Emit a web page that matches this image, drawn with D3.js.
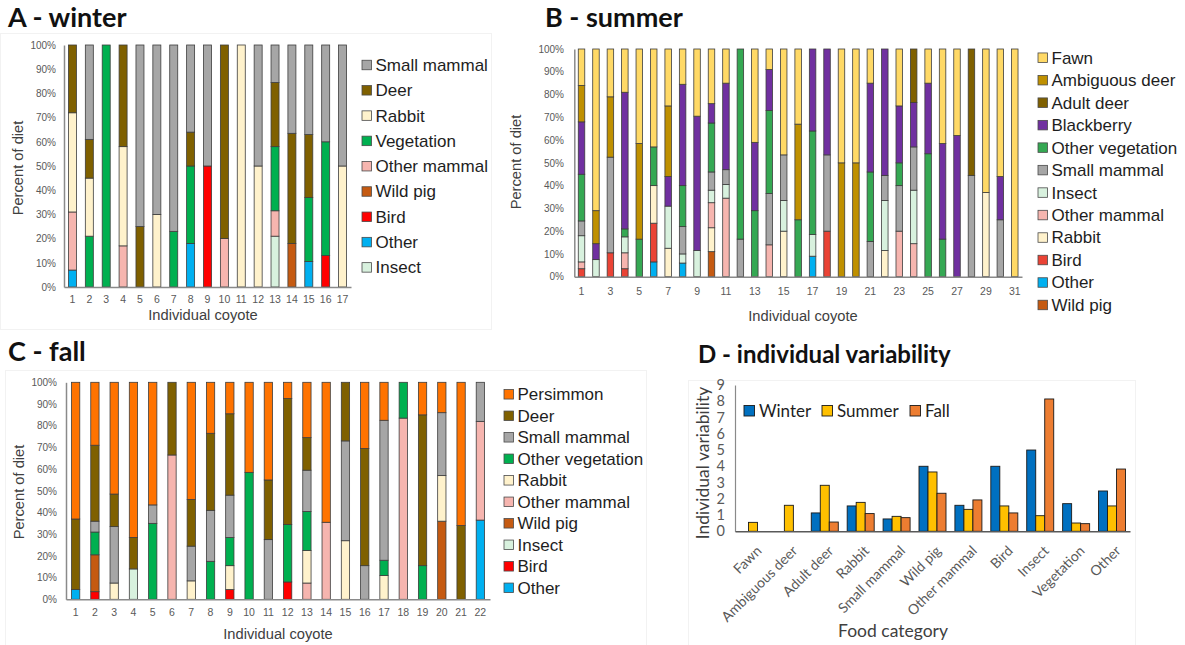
<!DOCTYPE html>
<html>
<head>
<meta charset="utf-8">
<script src="https://cdn.jsdelivr.net/npm/d3@7"></script>
<style>
  body { margin: 0; background: #fff; }
  svg { display: block; }
</style>
</head>
<body>
<svg id="fig" width="1185" height="645"></svg>
<script>
// ---------- A - winter: percent of diet per coyote (stack order bottom -> top) ----------
const winterFoods = ["Insect", "Other", "Bird", "Wild pig", "Other mammal", "Vegetation", "Rabbit", "Deer", "Small mammal"];
const wInsect      = [0, 0, 0, 0, 0, 0, 0, 0, 0, 0, 0, 0, 21, 0, 0, 0, 0];
const wOther       = [7, 0, 0, 0, 0, 0, 0, 18, 0, 0, 0, 0, 0, 0, 10.5, 0, 0];
const wBird        = [0, 0, 0, 0, 0, 0, 0, 0, 50, 0, 0, 0, 0, 0, 0, 13, 0];
const wWildPig     = [0, 0, 0, 0, 0, 0, 0, 0, 0, 0, 0, 0, 0, 18, 0, 0, 0];
const wOtherMammal = [24, 0, 0, 17, 0, 0, 0, 0, 0, 20, 0, 0, 10.5, 0, 0, 0, 0];
const wVegetation  = [0, 21, 100, 0, 0, 0, 23, 32, 0, 0, 0, 0, 26.5, 0, 26.5, 47, 0];
const wRabbit      = [41, 24, 0, 41, 0, 30, 0, 0, 0, 0, 100, 50, 0, 0, 0, 0, 50];
const wDeer        = [28, 16, 0, 42, 25, 0, 0, 14, 0, 80, 0, 0, 26.5, 45.5, 26, 0, 0];
const wSmallMammal = [0, 39, 0, 0, 75, 70, 77, 36, 50, 0, 0, 50, 15.5, 36.5, 37, 40, 50];

// ---------- B - summer ----------
const summerFoods = ["Wild pig", "Other", "Bird", "Rabbit", "Other mammal", "Insect", "Small mammal",
                     "Other vegetation", "Blackberry", "Adult deer", "Ambiguous deer", "Fawn"];
const sWildPig     = [0,0,0,0,0,0,0,0,0,11, 0,0,0,0,0,0,0,0,0,0, 0,0,0,0,0,0,0,0,0,0, 0];
const sOther       = [0,0,0,0,0,6.5,0,6,0,0, 0,0,0,0,0,0,9,0,0,0, 0,0,0,0,0,0,0,0,0,0, 0];
const sBird        = [3.5,0,10.5,3.5,0,17,0,0,0,0, 0,0,0,0,0,0,0,20,0,0, 0,0,0,0,0,0,0,0,0,0, 0];
const sRabbit      = [0,0,0,0,0,16.5,12.5,0,0,10.5, 0,0,0,0,20,0,0,0,0,0, 0,11.5,0,0,0,0,0,0,37,0, 0];
const sOtherMammal = [3,0,0,7,0,0,0,0,0,11, 34.5,0,0,14,0,0,0,0,0,0, 0,0,20,14.5,0,0,0,0,0,0, 0];
const sInsect      = [11.5,7.5,0,7,0,0,18.5,4,11.5,5.5, 6,0,0,0,13.5,0,9.5,0,0,0, 0,22,0,23.5,0,0,0,0,0,0, 0];
const sSmallMammal = [6.5,0,42,0,0,0,0,12,0,8, 6.5,16.5,0,22.5,20,0,0,33.5,0,0, 15.5,11,20,19,0,0,0,44.5,0,25, 0];
const sOtherVeg    = [20.5,0,0,3.5,16.5,17,0,18,0,21.5, 0,83.5,29,36.5,0,25,45.5,0,0,0, 30.5,0,10,0,54,16.5,0,0,0,0, 0];
const sBlackberry  = [23,7,0,60,0,0,13,44.5,59,8.5, 38,0,30,18,0,0,36,46.5,0,0, 39,55.5,25,19.5,31,42,62,0,0,19, 0];
const sAdultDeer   = [0,0,0,0,0,0,0,0,0,0, 0,0,0,0,0,0,0,0,0,0, 0,0,0,23.5,0,0,0,55.5,0,0, 0];
const sAmbDeer     = [16,14.5,26.5,0,42,0,31,0,0,0, 0,0,0,0,0,42,0,0,50,50, 0,0,0,0,0,0,0,0,0,0, 0];
const sFawn        = [16,71,21,19,41.5,43,25,15.5,29.5,24, 15,0,41,9,46.5,33,0,0,50,50, 15,0,25,0,15,41.5,38,0,63,56, 100];

// ---------- C - fall ----------
const fallFoods = ["Other", "Bird", "Insect", "Wild pig", "Other mammal", "Rabbit", "Other vegetation",
                   "Small mammal", "Deer", "Persimmon"];
const fOther       = [4.5,0,0,0,0,0,0,0,0,0, 0,0,0,0,0,0,0,0,0,0, 0,36.5];
const fBird        = [0,3.5,0,0,0,0,0,0,4.5,0, 0,8,0,0,0,0,0,0,0,0, 0,0];
const fInsect      = [0,0,0,14,0,0,0,0,0,0, 0,0,0,0,0,0,0,0,0,0, 0,0];
const fWildPig     = [0,17,0,0,0,0,0,0,0,0, 0,0,0,0,0,0,0,0,0,36, 0,0];
const fOtherMammal = [0,0,0,0,0,66.5,0,0,0,0, 0,0,7.5,35.5,0,0,0,83.5,0,0, 0,45.5];
const fRabbit      = [0,0,7.5,0,0,0,8.5,0,11,0, 0,0,15,0,27,0,11,0,0,21, 0,0];
const fOtherVeg    = [0,10.5,0,0,35,0,0,17.5,13,58.5, 0,26.5,18,0,0,0,7,16.5,15.5,0, 0,0];
const fSmallMammal = [0,5,26,0,8.5,0,16,23.5,19.5,0, 27.5,0,19,0,46,15.5,64.5,0,0,29, 0,18];
const fDeer        = [32.5,35,15,14.5,0,33.5,21.5,35.5,37.5,0, 27.5,58,15,0,27,54,0,0,69.5,0, 34,0];
const fPersimmon   = [63,29,51.5,71.5,56.5,0,54,23.5,14.5,41.5, 45,7.5,25.5,64.5,0,30.5,17.5,0,15,14, 66,0];

// ---------- D - individual variability ----------
const foodCategories = ["Fawn", "Ambiguous deer", "Adult deer", "Rabbit", "Small mammal", "Wild pig",
                        "Other mammal", "Bird", "Insect", "Vegetation", "Other"];
const seasonNames = ["Winter", "Summer", "Fall"];
const winterVar = [null, null, 1.13, 1.56, 0.76, 4.0, 1.6, 4.0, 5.0, 1.7, 2.48];
const summerVar = [0.55, 1.6, 2.83, 1.78, 0.92, 3.65, 1.35, 1.56, 0.96, 0.51, 1.56];
const fallVar   = [null, null, 0.57, 1.09, 0.84, 2.34, 1.93, 1.13, 8.14, 0.47, 3.83];
const varTicks  = [0, 1, 2, 3, 4, 5, 6, 7, 8, 9];
const pctTicks  = [0, 10, 20, 30, 40, 50, 60, 70, 80, 90, 100];

// ---------- drawing ----------
const svg = d3.select("#fig");
const SANS = "'Liberation Sans', Arial, Helvetica, sans-serif";
const CAL = "Lato, 'Open Sans', sans-serif";

const palette = {
  "Small mammal": "#a6a6a6", "Deer": "#7f6000", "Rabbit": "#fff2cc", "Vegetation": "#00b050",
  "Other mammal": "#f6b5af", "Wild pig": "#c55a11", "Bird": "#ff0000", "Other": "#00b0f0",
  "Insect": "#d8f1de", "Fawn": "#ffd966", "Ambiguous deer": "#bf9000", "Adult deer": "#7f6000",
  "Blackberry": "#7030a0", "Other vegetation": "#00b050", "Persimmon": "#ff7300"
};
const summerPalette = Object.assign({}, palette, { "Other vegetation": "#35a853", "Bird": "#ea4335" });

// faint panel frames
function frame(x, y, w, h) {
  svg.append("rect").attr("x", x).attr("y", y).attr("width", w).attr("height", h)
    .attr("fill", "none").attr("stroke", "#f2f2f2").attr("stroke-width", 1);
}
frame(0.5, 33.5, 491, 296);
frame(5.5, 370.5, 641, 280);
frame(688.5, 380.5, 447, 270);

function stackedPanel(cfg) {
  const keys = cfg.foods;
  const n = cfg.series[0].length;
  const ids = d3.range(1, n + 1);
  const rows = ids.map((id, i) => {
    const r = { id };
    keys.forEach((k, j) => { r[k] = cfg.series[j][i]; });
    return r;
  });
  const stacked = d3.stack().keys(keys)(rows);
  const x = d3.scaleBand().domain(ids).range([cfg.x0, cfg.x1]);
  const y = d3.scaleLinear().domain([0, 100]).range([cfg.yBot, cfg.yTop]);
  const color = d3.scaleOrdinal().domain(keys).range(keys.map(k => cfg.palette[k]));
  const g = svg.append("g");

  g.selectAll("g.layer").data(stacked).join("g").attr("class", "layer")
    .attr("fill", d => color(d.key))
    .selectAll("rect").data(d => d.filter(s => s[1] - s[0] > 0)).join("rect")
    .attr("x", d => x(d.data.id) + x.bandwidth() / 2 - cfg.barW / 2)
    .attr("width", cfg.barW)
    .attr("y", d => y(d[1]))
    .attr("height", d => y(d[0]) - y(d[1]))
    .attr("stroke", "#3d3d3d").attr("stroke-width", 0.8);

  // y axis
  const ya = g.append("g").attr("transform", `translate(${cfg.x0},0)`)
    .call(d3.axisLeft(y).tickValues(pctTicks).tickFormat(d => d + "%")
      .tickSize(0).tickSizeOuter(0).tickPadding(cfg.x0 - cfg.tickRight));
  ya.select(".domain").attr("stroke", "#8a8a8a").attr("stroke-width", 1.5);
  ya.selectAll("text").attr("font-family", SANS).attr("font-size", 10).attr("fill", "#595959");

  // x axis
  const fsx = 10.5;
  const xa = g.append("g").attr("transform", `translate(0,${cfg.yBot})`)
    .call(d3.axisBottom(x).tickSize(0).tickSizeOuter(0)
      .tickPadding(cfg.xLabelBase - cfg.yBot - 0.71 * fsx)
      .tickFormat(d => (cfg.every === 1 || d % cfg.every === 1) ? d : ""));
  xa.select(".domain").attr("stroke", "#8a8a8a").attr("stroke-width", 1.5);
  xa.selectAll("text").attr("font-family", SANS).attr("font-size", fsx).attr("fill", "#595959");

  // axis titles
  g.append("text").attr("x", cfg.xTitleX).attr("y", cfg.xTitleY).attr("text-anchor", "middle")
    .attr("font-family", SANS).attr("font-size", 14.7).attr("fill", "#404040").text("Individual coyote");
  g.append("text").attr("transform", `translate(${cfg.yTitleX},${cfg.yTitleY}) rotate(-90)`)
    .attr("text-anchor", "middle").attr("font-family", SANS).attr("font-size", 14.7)
    .attr("fill", "#404040").text("Percent of diet");

  // legend, listed top layer first
  const lg = g.append("g");
  keys.slice().reverse().forEach((k, i) => {
    const cy = cfg.legY + i * cfg.legStep;
    lg.append("rect").attr("x", cfg.legX).attr("y", cy - 4.75).attr("width", 9.5).attr("height", 9.5)
      .attr("fill", color(k)).attr("stroke", "#4a4a4a").attr("stroke-width", 0.8);
    lg.append("text").attr("x", cfg.legX + 13.5).attr("y", cy).attr("dy", "0.35em")
      .attr("font-family", SANS).attr("font-size", 17).attr("fill", "#1e1e1e").text(k);
  });

  // panel title
  svg.append("text").attr("x", cfg.titleX).attr("y", cfg.titleY)
    .attr("font-family", CAL).attr("font-weight", 700).attr("font-size", cfg.titleSize)
    .attr("fill", "#111").text(cfg.title);
}

stackedPanel({
  title: "A - winter", titleX: 8, titleY: 27, titleSize: 27,
  foods: winterFoods,
  series: [wInsect, wOther, wBird, wWildPig, wOtherMammal, wVegetation, wRabbit, wDeer, wSmallMammal],
  palette: palette,
  x0: 64, x1: 351, yTop: 45, yBot: 287, barW: 8, tickRight: 56, every: 1, xLabelBase: 303,
  xTitleX: 203, xTitleY: 320, yTitleX: 23, yTitleY: 168,
  legX: 362, legY: 65, legStep: 25.3
});

stackedPanel({
  title: "B - summer", titleX: 545, titleY: 27, titleSize: 27,
  foods: summerFoods,
  series: [sWildPig, sOther, sBird, sRabbit, sOtherMammal, sInsect, sSmallMammal, sOtherVeg,
           sBlackberry, sAdultDeer, sAmbDeer, sFawn],
  palette: summerPalette,
  x0: 574.3, x1: 1022, yTop: 49, yBot: 276.7, barW: 6.5, tickRight: 564, every: 2, xLabelBase: 295.5,
  xTitleX: 803, xTitleY: 321, yTitleX: 521, yTitleY: 162,
  legX: 1038, legY: 57.7, legStep: 22.48
});

stackedPanel({
  title: "C - fall", titleX: 8, titleY: 361, titleSize: 27,
  foods: fallFoods,
  series: [fOther, fBird, fInsect, fWildPig, fOtherMammal, fRabbit, fOtherVeg, fSmallMammal, fDeer, fPersimmon],
  palette: palette,
  x0: 66, x1: 490, yTop: 382.3, yBot: 599.3, barW: 8.3, tickRight: 57, every: 1, xLabelBase: 616,
  xTitleX: 278, xTitleY: 639, yTitleX: 23.5, yTitleY: 492,
  legX: 504, legY: 394.3, legStep: 21.5
});

// ---------- D: grouped bars ----------
(function () {
  const series = [
    { name: "Winter", values: winterVar, color: "#0070c0" },
    { name: "Summer", values: summerVar, color: "#ffc000" },
    { name: "Fall", values: fallVar, color: "#ed7d31" }
  ];
  const x0 = 735, x1 = 1130, yBot = 531.3, yTop = 385;
  const x = d3.scaleBand().domain(foodCategories).range([x0, x1]);
  const xs = d3.scaleBand().domain(seasonNames).range([-13.5, 13.5]);
  const y = d3.scaleLinear().domain([0, 9]).range([yBot, yTop]);
  const g = svg.append("g");

  series.forEach(s => {
    g.append("g").selectAll("rect")
      .data(foodCategories.map((c, i) => ({ c, v: s.values[i] })).filter(d => d.v != null))
      .join("rect")
      .attr("x", d => x(d.c) + x.bandwidth() / 2 + xs(s.name))
      .attr("width", xs.bandwidth())
      .attr("y", d => y(d.v))
      .attr("height", d => yBot - y(d.v))
      .attr("fill", s.color).attr("stroke", "#1a1a1a").attr("stroke-width", 0.9);
  });

  const ya = g.append("g").attr("transform", `translate(${x0},0)`)
    .call(d3.axisLeft(y).tickValues(varTicks).tickSize(0).tickSizeOuter(0).tickPadding(10));
  ya.select(".domain").attr("stroke", "#8a8a8a").attr("stroke-width", 1.2);
  ya.selectAll("text").attr("font-family", CAL).attr("font-size", 14.5).attr("fill", "#595959");

  const xa = g.append("g").attr("transform", `translate(0,${yBot})`)
    .call(d3.axisBottom(x).tickSize(0).tickSizeOuter(0).tickFormat(""));
  xa.select(".domain").attr("stroke", "#595959").attr("stroke-width", 1.5);
  g.append("g").selectAll("text").data(foodCategories).join("text")
    .attr("transform", d => `translate(${x(d) + x.bandwidth() / 2 + 6},${yBot + 17}) rotate(-45)`)
    .attr("text-anchor", "end").attr("dy", "0.35em")
    .attr("font-family", CAL).attr("font-size", 14).attr("fill", "#595959").text(d => d);

  g.append("text").attr("x", 893).attr("y", 637).attr("text-anchor", "middle")
    .attr("font-family", CAL).attr("font-size", 17.5).attr("fill", "#404040").text("Food category");
  g.append("text").attr("transform", "translate(709,463) rotate(-90)").attr("text-anchor", "middle")
    .attr("font-family", CAL).attr("font-size", 17.5).attr("fill", "#404040").text("Individual variability");

  // legend row
  const legPos = [744, 822, 910];
  series.forEach((s, i) => {
    g.append("rect").attr("x", legPos[i]).attr("y", 405.5).attr("width", 10.5).attr("height", 10.5)
      .attr("fill", s.color).attr("stroke", "#1a1a1a").attr("stroke-width", 0.9);
    g.append("text").attr("x", legPos[i] + 15).attr("y", 411).attr("dy", "0.35em")
      .attr("font-family", CAL).attr("font-size", 17).attr("fill", "#1e1e1e").text(s.name);
  });

  svg.append("text").attr("x", 698).attr("y", 363)
    .attr("font-family", CAL).attr("font-weight", 700).attr("font-size", 24)
    .attr("fill", "#111").text("D - individual variability");
})();
</script>
</body>
</html>
